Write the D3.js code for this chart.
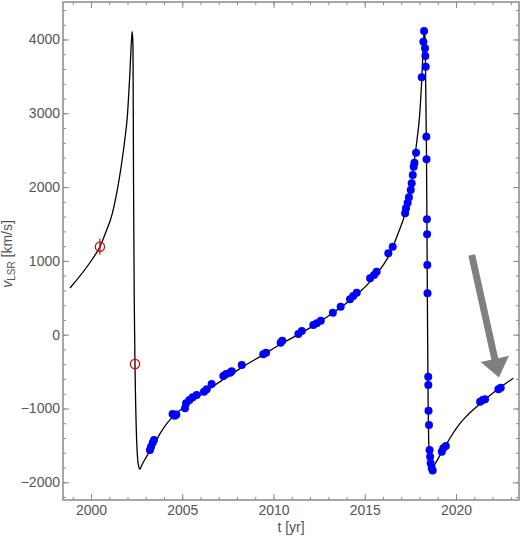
<!DOCTYPE html>
<html>
<head>
<meta charset="utf-8">
<script src="https://cdn.jsdelivr.net/npm/d3@7"></script>
<style>
body { margin: 0; background: #fff; }
text { font-family: "Liberation Sans", Arial, sans-serif; }
</style>
</head>
<body>
<script>
// model curve
var curveT = [1998.85, 2000.04, 2000.49, 2000.80, 2001.17, 2001.38, 2001.65, 2001.85, 2001.99, 2002.12, 2002.22, 2002.26,
              2002.30, 2002.33, 2002.37, 2002.41, 2002.50, 2002.56, 2002.62, 2002.68, 2002.75, 2002.85, 2003.01,
              2003.23, 2003.50, 2003.78, 2004.51, 2005.24, 2006.34, 2008.16, 2009.44, 2010.45, 2011.45, 2012.45,
              2013.28, 2014.37, 2015.47, 2016.38, 2016.84, 2017.21, 2017.42, 2017.67, 2017.86, 2018.00, 2018.13, 2018.22,
              2018.26, 2018.31, 2018.38, 2018.43, 2018.47, 2018.50, 2018.56, 2018.63, 2018.72, 2018.79, 2018.89,
              2019.05, 2019.27, 2019.54, 2019.82, 2020.22, 2020.55, 2021.13, 2022.23, 2023.14];
var curveV = [633, 1012, 1192, 1380, 1645, 1880, 2276, 2638, 2954, 3496, 3993, 4106,
              3930, 2096, 470, -397, -1427, -1698, -1790, -1824, -1785, -1735, -1665,
              -1575, -1470, -1340, -1100, -960, -760, -460, -270, -120, 15, 160,
              300, 500, 770, 1100, 1380, 1645, 1880, 2276, 2638, 2954, 3496, 3993,
              4106, 3993, 2503, 470, -885, -1427, -1671, -1779, -1833, -1790, -1735,
              -1665, -1572, -1455, -1342, -1201, -1110, -976, -749, -591];

// measured velocities (blue)
var obsT = [2003.23, 2003.29, 2003.38, 2003.45, 2004.47, 2004.59, 2004.68,
            2005.15, 2005.21, 2005.39, 2005.57, 2005.79, 2006.19, 2006.34, 2006.61,
            2007.25, 2007.40, 2007.62, 2007.71, 2008.26, 2009.44, 2009.59, 2010.39, 2010.48,
            2011.36, 2011.55, 2012.18, 2012.37, 2012.59, 2013.25, 2013.68, 2014.19, 2014.37, 2014.56,
            2015.29, 2015.51, 2015.65, 2016.29, 2016.53,
            2017.21, 2017.26, 2017.35, 2017.42, 2017.52, 2017.57, 2017.63, 2017.68, 2017.72, 2017.81,
            2018.12, 2018.21, 2018.25, 2018.30, 2018.32, 2018.34,
            2018.373, 2018.384, 2018.405, 2018.416, 2018.427, 2018.438, 2018.477, 2018.482, 2018.493,
            2018.52, 2018.55, 2018.58, 2018.61, 2018.67, 2018.72,
            2019.22, 2019.30, 2019.44, 2021.32, 2021.46, 2021.59, 2022.32, 2022.45];
var obsV = [-1562, -1518, -1463, -1427, -1075, -1100, -1080,
            -997, -930, -885, -848, -817, -772, -740, -668,
            -560, -533, -515, -496, -411, -266, -244, -108, -81,
            9, 50, 131, 154, 190, 298, 379, 480, 524, 569,
            764, 809, 854, 1103, 1192,
            1645, 1713, 1789, 1862, 1961, 2051, 2164, 2276, 2331, 2466,
            3488, 3970, 4115, 3881, 3776, 3631,
            2683, 2377, 1564, 1360, 944, 561, -569, -682, -1030,
            -1224, -1562, -1653, -1743, -1810, -1840,
            -1585, -1539, -1508, -908, -885, -875, -740, -718];

// earlier measurements (red, open)
var redT = [2000.49, 2002.41];
var redV = [1192, -397];
var redErr = [110, 0];

var xTicks = [2000, 2005, 2010, 2015, 2020];
var xMinor = d3.range(1999, 2024);
var yTicks = [-2000, -1000, 0, 1000, 2000, 3000, 4000];
var yMinor = d3.range(-2200, 4600, 200);

var arrowFrom = [2020.86, 1080];
var arrowTo = [2022.35, -580];

var W = 521, H = 539;
var svg = d3.select("body").append("svg").attr("width", W).attr("height", H);

var x = d3.scaleLinear().domain([1998.466, 2023.45]).range([63, 519]);
var y = d3.scaleLinear().domain([-2240, 4508]).range([500, 2]);

var frameCol = "#8a8a8a", textCol = "#555";

svg.append("defs").append("clipPath").attr("id", "clip")
    .append("rect").attr("x", 63).attr("y", 2).attr("width", 456).attr("height", 498);

var plot = svg.append("g").attr("clip-path", "url(#clip)");

// curve
var line = d3.line()
    .x(function(d){ return x(d[0]); })
    .y(function(d){ return y(d[1]); })
    .curve(d3.curveMonotoneX);

plot.append("path")
    .datum(curveT.map(function(t, i){ return [t, curveV[i]]; }))
    .attr("d", line)
    .attr("fill", "none")
    .attr("stroke", "#000")
    .attr("stroke-width", 1.3);

// blue points
plot.selectAll("circle.obs")
    .data(obsT)
    .enter().append("circle")
        .attr("class", "obs")
        .attr("cx", function(d){ return x(d); })
        .attr("cy", function(d, i){ return y(obsV[i]); })
        .attr("r", 4)
        .attr("fill", "#0000ff");

// red points with error bar
plot.selectAll("line.err")
    .data(redT)
    .enter().append("line")
        .attr("class", "err")
        .attr("x1", function(d){ return x(d); })
        .attr("x2", function(d){ return x(d); })
        .attr("y1", function(d, i){ return y(redV[i] + redErr[i]); })
        .attr("y2", function(d, i){ return y(redV[i] - redErr[i]); })
        .attr("stroke", "#e00000")
        .attr("stroke-width", 1.2);

plot.selectAll("circle.red")
    .data(redT)
    .enter().append("circle")
        .attr("class", "red")
        .attr("cx", function(d){ return x(d); })
        .attr("cy", function(d, i){ return y(redV[i]); })
        .attr("r", 4.6)
        .attr("fill", "none")
        .attr("stroke", "#e00000")
        .attr("stroke-width", 1.3);

// grey arrow
var p0 = [x(arrowFrom[0]), y(arrowFrom[1])], p1 = [x(arrowTo[0]), y(arrowTo[1])];
var dx = p1[0] - p0[0], dy = p1[1] - p0[1], len = Math.sqrt(dx*dx + dy*dy);
var ux = dx/len, uy = dy/len, nx = -uy, ny = ux;
var hl = 19, hw = 14.5, sw = 3.5;
var bx = p1[0] - ux*hl, by = p1[1] - uy*hl;
var pts = [
    [p0[0] + nx*sw, p0[1] + ny*sw], [bx + nx*sw, by + ny*sw], [bx + nx*hw, by + ny*hw],
    p1,
    [bx - nx*hw, by - ny*hw], [bx - nx*sw, by - ny*sw], [p0[0] - nx*sw, p0[1] - ny*sw]
];
svg.append("polygon")
    .attr("points", pts.map(function(p){ return p.join(","); }).join(" "))
    .attr("fill", "#808080");

// axes: ticks pointing inward on all four sides
function styleAxis(g){
    g.select(".domain").remove();
    g.selectAll(".tick line").attr("stroke", frameCol);
    g.selectAll(".tick text").attr("fill", textCol).attr("font-size", 14);
}

svg.append("g").attr("transform", "translate(0,500)")
    .call(d3.axisBottom(x).tickValues(xMinor).tickSize(-3).tickFormat("")).call(styleAxis);
svg.append("g").attr("transform", "translate(0,500)")
    .call(d3.axisBottom(x).tickValues(xTicks).tickSize(-6).tickPadding(5).tickFormat(d3.format("d"))).call(styleAxis);
svg.append("g").attr("transform", "translate(0,2)")
    .call(d3.axisTop(x).tickValues(xMinor).tickSize(-3).tickFormat("")).call(styleAxis);
svg.append("g").attr("transform", "translate(0,2)")
    .call(d3.axisTop(x).tickValues(xTicks).tickSize(-6).tickFormat("")).call(styleAxis);

svg.append("g").attr("transform", "translate(63,0)")
    .call(d3.axisLeft(y).tickValues(yMinor).tickSize(-3).tickFormat("")).call(styleAxis);
svg.append("g").attr("transform", "translate(63,0)")
    .call(d3.axisLeft(y).tickValues(yTicks).tickSize(-6).tickPadding(3).tickFormat(d3.format("d"))).call(styleAxis);
svg.append("g").attr("transform", "translate(519,0)")
    .call(d3.axisRight(y).tickValues(yMinor).tickSize(-3).tickFormat("")).call(styleAxis);
svg.append("g").attr("transform", "translate(519,0)")
    .call(d3.axisRight(y).tickValues(yTicks).tickSize(-6).tickFormat("")).call(styleAxis);

// frame
svg.append("rect")
    .attr("x", 63).attr("y", 2).attr("width", 456).attr("height", 498)
    .attr("fill", "none").attr("stroke", frameCol).attr("stroke-width", 1.5);

// axis labels
svg.append("text")
    .attr("x", 291).attr("y", 532)
    .attr("text-anchor", "middle")
    .attr("font-size", 14).attr("fill", textCol)
    .text("t [yr]");

var yl = svg.append("text")
    .attr("transform", "translate(12,254) rotate(-90)")
    .attr("text-anchor", "middle")
    .attr("font-size", 14).attr("fill", textCol);
yl.append("tspan").attr("font-style", "italic").text("v");
yl.append("tspan").attr("font-size", 10).attr("dy", 3).text("LSR");
yl.append("tspan").attr("dy", -3).text(" [km/s]");
</script>
</body>
</html>
